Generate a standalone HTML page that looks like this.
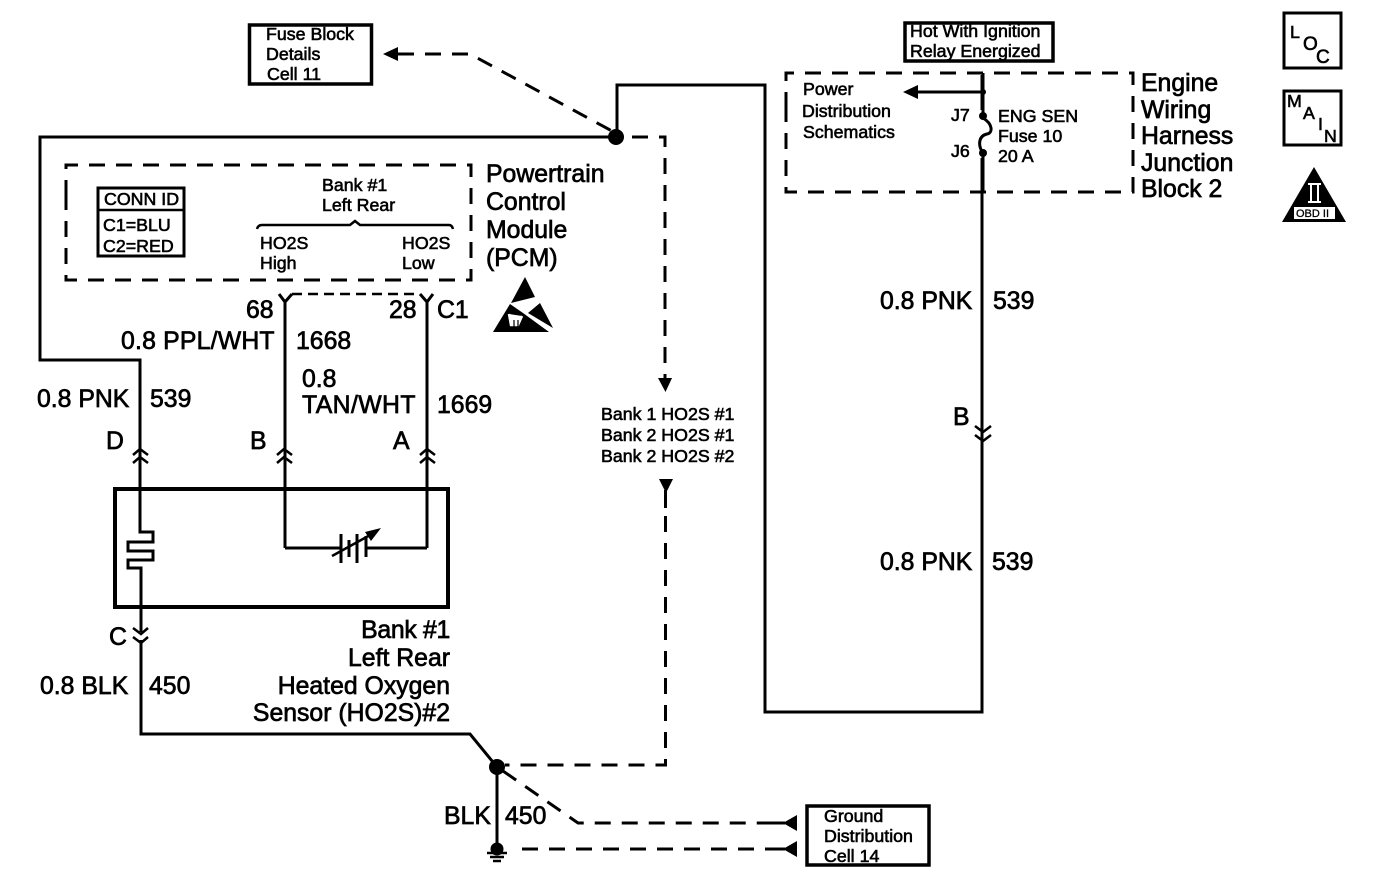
<!DOCTYPE html>
<html><head><meta charset="utf-8"><style>
html,body{margin:0;padding:0;background:#fff}
svg{display:block}
text{font-family:"Liberation Sans",sans-serif;fill:#000;stroke:#000}
.l{font-size:24.8px;stroke-width:.7}
.s{font-size:17.8px;stroke-width:.6}
.w{fill:none;stroke:#000;stroke-width:3}
.d{fill:none;stroke:#000;stroke-width:3;stroke-dasharray:16 11}
.t{fill:none;stroke:#000;stroke-width:2.500}
</style></head><body>
<svg width="1392" height="888" viewBox="0 0 1392 888" xmlns="http://www.w3.org/2000/svg">
<!-- Fuse block -->
<rect x="249.500" y="25" width="122" height="59" fill="none" stroke="#000" stroke-width="3.500"/>
<text class="s" x="266" y="40">Fuse Block</text>
<text class="s" x="266" y="60">Details</text>
<text class="s" x="267" y="80">Cell 11</text>
<path d="M383 54L398 47V61Z"/>
<path class="d" d="M398 54H470L612 131"/>
<!-- Main wires -->
<path class="w" d="M616 137H40V360H140V450"/>
<path class="w" d="M617 137V85H765V712H982V75"/>
<circle cx="616" cy="137" r="8"/>
<path class="d" d="M632 137H665V378"/>
<path d="M658 378H672L665.500 392Z"/>
<text class="s" x="601" y="420">Bank 1 HO2S #1</text>
<text class="s" x="601" y="441">Bank 2 HO2S #1</text>
<text class="s" x="601" y="462">Bank 2 HO2S #2</text>
<path d="M659 479H673L666 493Z"/>
<path class="w" d="M665.500 490V508"/>
<path class="d" d="M665.500 516V765H505"/>
<!-- PCM box -->
<path class="d" d="M66 196V165H471V280H66V196" stroke-width="3.500"/>
<rect x="98" y="188" width="86" height="68" fill="none" stroke="#000" stroke-width="3"/>
<path class="t" d="M98 210H184"/>
<text class="s" x="104" y="205">CONN ID</text>
<text class="s" x="103" y="231">C1=BLU</text>
<text class="s" x="103" y="252">C2=RED</text>
<text class="s" x="322" y="191">Bank #1</text>
<text class="s" x="322" y="211">Left Rear</text>
<path class="t" d="M257 229Q258 225 262 225H350L355 221L360 225H449Q452 225 453 229"/>
<text class="s" x="260" y="249">HO2S</text>
<text class="s" x="260" y="269">High</text>
<text class="s" x="402" y="249">HO2S</text>
<text class="s" x="402" y="269">Low</text>
<text class="l" x="486" y="182">Powertrain</text>
<text class="l" x="486" y="210">Control</text>
<text class="l" x="486" y="238">Module</text>
<text class="l" x="486" y="266">(PCM)</text>
<!-- ESD symbol -->
<path d="M525 277L535 297L511 303Z"/>
<path d="M493 332L510 304L523 313L549 332Z"/>
<path d="M540 303L553 328L528 313Z"/>
<path d="M509 314L511 325L518 325L522 316" stroke="#fff" stroke-width="2.500" fill="#fff"/>
<path d="M514 320V328M518 320V328" stroke="#000" stroke-width="1.200" fill="none"/>
<!-- C1 connector -->
<path class="w" d="M285 548V302M279 294L285 302L292 294"/>
<path class="w" d="M427 548V302M420 294L427 302L433 294"/>
<path class="t" d="M292 294H420" stroke-dasharray="10 6"/>
<text class="l" x="246" y="318">68</text>
<text class="l" x="389" y="318">28</text>
<text class="l" x="437" y="318">C1</text>
<text class="l" x="121" y="349" letter-spacing=".2">0.8 PPL/WHT</text>
<text class="l" x="296" y="349">1668</text>
<text class="l" x="302" y="387">0.8</text>
<text class="l" x="302" y="413" letter-spacing=".4">TAN/WHT</text>
<text class="l" x="437" y="413">1669</text>
<text class="l" x="37" y="407">0.8 PNK</text>
<text class="l" x="150" y="407">539</text>
<text class="l" x="106" y="449">D</text>
<text class="l" x="250" y="449">B</text>
<text class="l" x="393" y="449">A</text>
<!-- connectors at sensor -->
<path class="t" d="M133 455L140 449L148 455M133 463L140 457L148 463"/>
<path class="t" d="M277 455L284 449L292 455M277 463L284 457L292 463"/>
<path class="t" d="M420 455L427 449L435 455M420 463L427 457L435 463"/>
<rect x="115" y="489" width="333" height="118" fill="none" stroke="#000" stroke-width="4"/>
<path class="w" d="M140 450V532H153V542H128V551H153V560H128V568H141V632"/>
<path class="w" d="M285 548H340M427 548H367"/>
<path class="w" d="M341 534V563M349 540V557M357 534V563M366 536V557"/>
<path class="t" d="M332 556L372 534"/>
<path d="M381 528L365 532L371 541Z"/>
<!-- C connector -->
<path class="t" d="M133 628L141 634L148 628M133 637L141 643L148 637"/>
<path class="w" d="M141 640V734H470L497 767V850"/>
<text class="l" x="109" y="645">C</text>
<text class="l" x="40" y="694">0.8 BLK</text>
<text class="l" x="149" y="694">450</text>
<text class="l" x="450" y="638" text-anchor="end" letter-spacing="-.3">Bank #1</text>
<text class="l" x="450" y="666" text-anchor="end">Left Rear</text>
<text class="l" x="450" y="694" text-anchor="end">Heated Oxygen</text>
<text class="l" x="450" y="721" text-anchor="end">Sensor (HO2S)#2</text>
<!-- Ground -->
<circle cx="497" cy="767" r="8"/>
<circle cx="497" cy="849" r="6.500"/>
<path class="t" d="M487 853H507M490 857H504M493 861H501"/>
<path class="d" d="M503 771L578 823H770" stroke-dasharray="15 12"/>
<path class="d" d="M522 849H770" stroke-dasharray="15 12"/>
<path class="w" d="M768 823H785M768 849H785"/>
<path d="M783 823L797 815V831Z"/>
<path d="M783 849L797 841V857Z"/>
<text class="l" x="444" y="824">BLK</text>
<text class="l" x="505" y="824">450</text>
<rect x="807" y="806" width="122" height="59" fill="none" stroke="#000" stroke-width="3.500"/>
<text class="s" x="824" y="822">Ground</text>
<text class="s" x="824" y="842">Distribution</text>
<text class="s" x="824" y="862">Cell 14</text>
<!-- Right top -->
<rect x="905" y="23" width="148" height="38" fill="none" stroke="#000" stroke-width="3.500"/>
<text class="s" x="910" y="37">Hot With Ignition</text>
<text class="s" x="910" y="57">Relay Energized</text>
<path class="d" d="M786 108V73H1133V192H786V108" stroke-width="3.500"/>
<rect x="977" y="110" width="12" height="48" fill="#fff"/>
<path class="w" d="M983 73V116"/>
<path class="w" d="M983 153V192"/>
<path class="w" d="M983 118C993 124 993 133 987 134C978 136 978 146 983 153" stroke-width="2.500"/>
<circle cx="983" cy="92" r="3"/>
<circle cx="983" cy="116" r="4"/>
<circle cx="983" cy="153" r="4"/>
<path class="w" d="M915 92H983" stroke-width="2.500"/>
<path d="M903 92L918 85V99Z"/>
<text class="s" x="803" y="95">Power</text>
<text class="s" x="802" y="117">Distribution</text>
<text class="s" x="803" y="138">Schematics</text>
<text class="s" x="951" y="121">J7</text>
<text class="s" x="951" y="157">J6</text>
<text class="s" x="998" y="122">ENG SEN</text>
<text class="s" x="998" y="142">Fuse 10</text>
<text class="s" x="998" y="162">20 A</text>
<text class="l" x="1141" y="91">Engine</text>
<text class="l" x="1141" y="118">Wiring</text>
<text class="l" x="1141" y="144">Harness</text>
<text class="l" x="1141" y="171">Junction</text>
<text class="l" x="1141" y="197">Block 2</text>
<text class="l" x="880" y="309">0.8 PNK</text>
<text class="l" x="993" y="309">539</text>
<text class="l" x="953" y="425">B</text>
<path class="t" d="M975 426L983 432L991 426M975 435L983 441L991 435"/>
<text class="l" x="880" y="570">0.8 PNK</text>
<text class="l" x="992" y="570">539</text>
<!-- Side icons -->
<rect x="1284" y="13" width="57" height="55" fill="none" stroke="#000" stroke-width="3"/>
<text class="s" x="1290" y="38">L</text>
<text class="s" x="1303" y="50" style="font-size:19px">O</text>
<text class="s" x="1316" y="63" style="font-size:19px">C</text>
<rect x="1284" y="91" width="57" height="54" fill="none" stroke="#000" stroke-width="3"/>
<text class="s" x="1287" y="107">M</text>
<text class="s" x="1303" y="119">A</text>
<text class="s" x="1318" y="130">I</text>
<text class="s" x="1324" y="142">N</text>
<path d="M1314 167L1346 222H1282Z"/>
<rect x="1294" y="207" width="41" height="12" fill="#fff"/>
<path d="M1311 184V202M1318 184V202M1308 184H1321M1308 202H1321" stroke="#fff" stroke-width="2" fill="none"/>
<text x="1296" y="217" style="font-size:11px;stroke-width:.3">OBD II</text>
</svg>
</body></html>
